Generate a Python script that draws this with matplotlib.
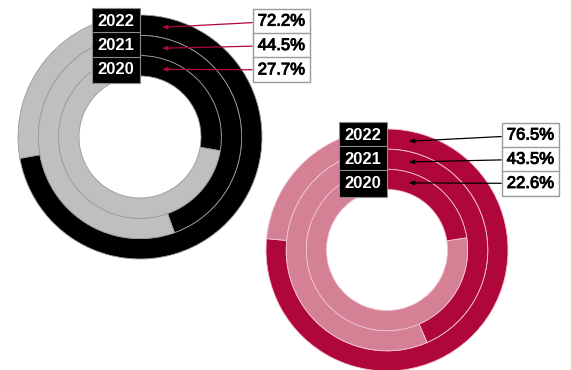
import numpy as np
import matplotlib
matplotlib.use("Agg")
import matplotlib.pyplot as plt
import matplotlib.patheffects as pe

plt.rcParams['font.family'] = ['Liberation Sans', 'DejaVu Sans']

# data
years = ["2022", "2021", "2020"]
left_values = [72.2, 44.5, 27.7]
right_values = [76.5, 43.5, 22.6]

W, H = 571, 370
fig = plt.figure(figsize=(W / 100, H / 100), dpi=100)


def donut(ax, values, dark, light, edge, line_color, pct_x):
    radii = [1.0, 0.833, 0.667]
    width = 0.167
    for v, r in zip(values, radii):
        ax.pie([v, 100 - v], radius=r, startangle=90, counterclock=False,
               colors=[dark, light],
               wedgeprops=dict(width=width, edgecolor=edge, linewidth=0.6))
    ax.set_xlim(-1, 1)
    ax.set_ylim(-1, 1)
    ax.set_aspect("equal")
    ax.axis("off")

    label_y = [0.95, 0.75, 0.55]
    dx = 0.18
    for yr, v, r, ly in zip(years, values, radii, label_y):
        rm = r - width / 2
        px, py = dx, np.sqrt(rm ** 2 - dx ** 2)
        # year tag, right edge on the centre line
        ax.text(-0.045, ly, yr, ha="right", va="center", color="white",
                fontsize=12, fontweight="bold", zorder=5,
                bbox=dict(boxstyle="square,pad=0.34", fc="black",
                          ec="#8c8c8c", lw=0.8))
        # percentage tag with leader line
        t = ax.annotate(f"{v}%", xy=(px, py), xytext=(pct_x, ly),
                        ha="left", va="center", fontsize=12, color="black",
                        zorder=5, annotation_clip=False,
                        bbox=dict(boxstyle="square,pad=0.3", fc="white",
                                  ec="#9a9a9a", lw=1),
                        arrowprops=dict(arrowstyle="-|>,head_length=0.25,head_width=0.1",
                                        color=line_color, lw=0.9,
                                        shrinkA=0, shrinkB=0))
        t.set_path_effects([pe.withStroke(linewidth=0.7, foreground="black")])


# left donut: centre (140,137) px, radius 122
ax1 = fig.add_axes([18 / W, (H - 137 - 122) / H, 244 / W, 244 / H])
donut(ax1, left_values, "#000000", "#bfbfbf", "#9a9a9a", "#b0073a", 0.965)

# right donut: centre (387,250) px, radius 121
ax2 = fig.add_axes([266 / W, (H - 250 - 121) / H, 242 / W, 242 / H])
donut(ax2, right_values, "#b0073a", "#d48196", "#f2c6d1", "#000000", 0.99)

fig.savefig("out.png", dpi=100)
